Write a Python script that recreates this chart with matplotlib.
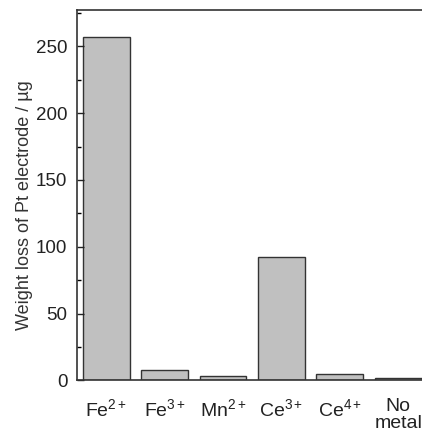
import matplotlib.pyplot as plt
import numpy as np

plt.rcParams['font.family'] = ['Liberation Sans', 'DejaVu Sans']
plt.rcParams['mathtext.fontset'] = 'custom'
plt.rcParams['mathtext.rm'] = 'Liberation Sans'
plt.rcParams['mathtext.it'] = 'Liberation Sans'
plt.rcParams['mathtext.default'] = 'rm'

# data
categories = ['Fe$^{2+}$', 'Fe$^{3+}$', 'Mn$^{2+}$', 'Ce$^{3+}$', 'Ce$^{4+}$', 'No\nmetal']
weight_loss = [257, 8, 3, 92, 5, 2]

fig = plt.figure(figsize=(4.22, 4.29), dpi=100)
ax = fig.add_axes([77 / 422, 1 - 380.3 / 429, 350.4 / 422, 370 / 429])

x = np.arange(1, len(categories) + 1)
ax.bar(x, weight_loss, width=0.8, color='#c0c0c0', edgecolor='#333333', linewidth=1.0)

ax.set_xlim(0.5, 6.5)
ax.set_ylim(0, 277)
ax.set_yticks([0, 50, 100, 150, 200, 250])
ax.set_yticks(np.arange(25, 277, 50), minor=True)
ax.set_xticks(x)
ax.set_xticklabels(categories, fontsize=14, linespacing=0.95)
ax.tick_params(axis='y', direction='in', length=5, width=1, labelsize=13.5, pad=7, colors='#222222')
ax.tick_params(axis='y', which='minor', direction='in', length=3, width=1)
ax.tick_params(axis='x', length=0, pad=13, colors='#222222')
ax.set_ylabel('Weight loss of Pt electrode / µg', fontsize=13, color='#333333')
ax.yaxis.set_label_coords(-0.125, 0.5 - 10 / 370)

for s in ax.spines.values():
    s.set_linewidth(1.2)
    s.set_color('#333333')

fig.savefig('out.png', dpi=100)
